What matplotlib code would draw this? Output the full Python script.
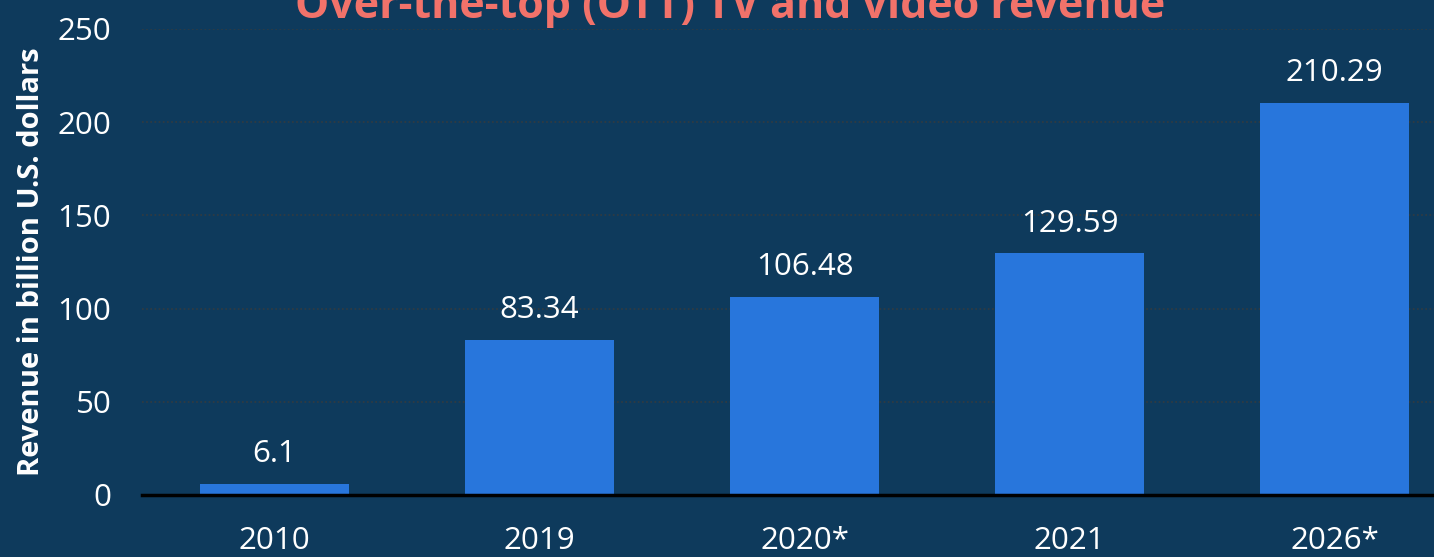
import matplotlib.pyplot as plt

# Data
years = ['2010', '2019', '2020*', '2021', '2026*']
revenue = [6.1, 83.34, 106.48, 129.59, 210.29]
labels = ['6.1', '83.34', '106.48', '129.59', '210.29']

bg = '#0e3a5c'
bar_color = '#2876dc'

plt.rcParams['font.family'] = ['Open Sans', 'DejaVu Sans']

fig = plt.figure(figsize=(14.34, 5.57), dpi=100, facecolor=bg)
ax = fig.add_axes([142 / 1434, 62 / 557, 1 - 142 / 1434, 466 / 557])
ax.set_facecolor(bg)

x = range(len(years))
bars = ax.bar(x, revenue, width=0.56, color=bar_color, zorder=3)

for xi, v, lab in zip(x, revenue, labels):
    ax.text(xi, v + 8, lab, ha='center', va='bottom', color='white', fontsize=22.5)

ax.set_xlim(-0.5, 4.375)
ax.set_ylim(0, 250)
ax.set_yticks([0, 50, 100, 150, 200, 250])
ax.set_xticks(list(x))
ax.set_xticklabels(years)
ax.tick_params(axis='both', length=0, colors='white', labelsize=22.5)
ax.tick_params(axis='y', pad=22)
ax.tick_params(axis='x', pad=22)

ax.grid(axis='y', linestyle=(0, (1, 1.5)), color='#333a40', linewidth=1.2, zorder=0)
for s in ['top', 'right', 'left']:
    ax.spines[s].set_visible(False)
ax.spines['bottom'].set_color('black')
ax.spines['bottom'].set_linewidth(2.5)
ax.spines['bottom'].set_zorder(4)

ax.set_ylabel('Revenue in billion U.S. dollars', color='white', fontsize=21,
              fontweight='bold')
ax.yaxis.set_label_coords(-0.074, 0.5)

fig.text(730 / 1434, 1 - 18 / 557, 'Over-the-top (OTT) TV and video revenue',
         ha='center', va='baseline', color='#f2726a', fontsize=31, fontweight='bold')

plt.savefig('out.png', dpi=100, facecolor=bg)
